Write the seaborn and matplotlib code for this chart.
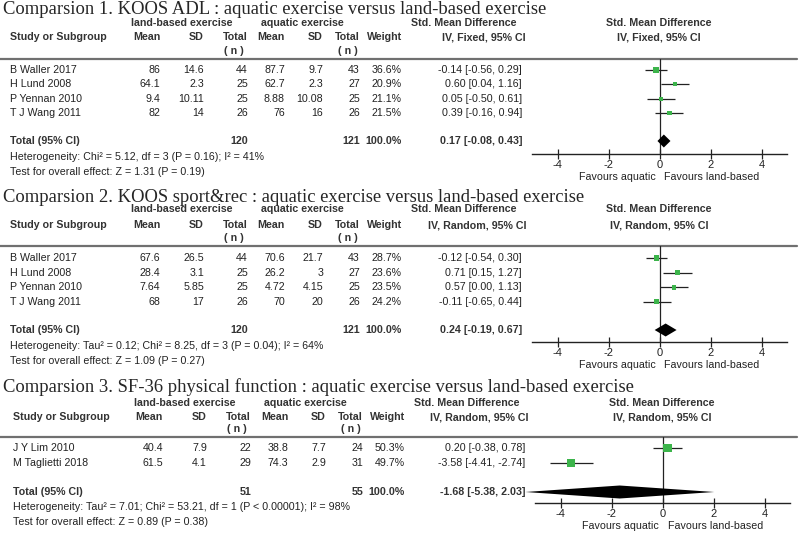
import numpy as np
import pandas as pd
import matplotlib
matplotlib.use('Agg')
import matplotlib.pyplot as plt
import seaborn as sns

# ---- data ----
titles = ['Comparsion 1. KOOS ADL : aquatic exercise versus land-based exercise',
          'Comparsion 2. KOOS sport&rec : aquatic exercise versus land-based exercise',
          'Comparsion 3. SF-36 physical function : aquatic exercise versus land-based exercise']
methods = ['IV, Fixed, 95% CI', 'IV, Random, 95% CI', 'IV, Random, 95% CI']

studies = [['B Waller 2017', 'H Lund 2008', 'P Yennan 2010', 'T J Wang 2011'],
           ['B Waller 2017', 'H Lund 2008', 'P Yennan 2010', 'T J Wang 2011'],
           ['J Y Lim 2010', 'M Taglietti 2018']]
land_mean = [[86, 64.1, 9.4, 82], [67.6, 28.4, 7.64, 68], [40.4, 61.5]]
land_sd = [[14.6, 2.3, 10.11, 14], [26.5, 3.1, 5.85, 17], [7.9, 4.1]]
land_n = [[44, 25, 25, 26], [44, 25, 25, 26], [22, 29]]
aqua_mean = [[87.7, 62.7, 8.88, 76], [70.6, 26.2, 4.72, 70], [38.8, 74.3]]
aqua_sd = [[9.7, 2.3, 10.08, 16], [21.7, 3, 4.15, 20], [7.7, 2.9]]
aqua_n = [[43, 27, 25, 26], [43, 27, 25, 26], [24, 31]]
weight = [[36.6, 20.9, 21.1, 21.5], [28.7, 23.6, 23.5, 24.2], [50.3, 49.7]]
smd = [[-0.14, 0.60, 0.05, 0.39], [-0.12, 0.71, 0.57, -0.11], [0.20, -3.58]]
smd_lo = [[-0.56, 0.04, -0.50, -0.16], [-0.54, 0.15, 0.00, -0.65], [-0.38, -4.41]]
smd_hi = [[0.29, 1.16, 0.61, 0.94], [0.30, 1.27, 1.13, 0.44], [0.78, -2.74]]
tot_land_n = [120, 120, 51]
tot_aqua_n = [121, 121, 55]
tot_weight = [100.0, 100.0, 100.0]
tot_smd = [0.17, 0.24, -1.68]
tot_lo = [-0.08, -0.19, -5.38]
tot_hi = [0.43, 0.67, 2.03]
heterogeneity = ['Heterogeneity: Chi\u00b2 = 5.12, df = 3 (P = 0.16); I\u00b2 = 41%',
                 'Heterogeneity: Tau\u00b2 = 0.12; Chi\u00b2 = 8.25, df = 3 (P = 0.04); I\u00b2 = 64%',
                 'Heterogeneity: Tau\u00b2 = 7.01; Chi\u00b2 = 53.21, df = 1 (P < 0.00001); I\u00b2 = 98%']
overall = ['Test for overall effect: Z = 1.31 (P = 0.19)',
           'Test for overall effect: Z = 1.09 (P = 0.27)',
           'Test for overall effect: Z = 0.89 (P = 0.38)']
xticks = [-4, -2, 0, 2, 4]

# ---- layout (pixels) ----
layout = [
    dict(title=10, h1=23, h2=37, n=51, rule=59, row0=70, dy=14.4, total=141, het=157, test=172, axis=154, dx=0),
    dict(title=197, h1=209, h2=225, n=238, rule=246, row0=258, dy=14.6, total=330, het=346, test=361, axis=342, dx=0),
    dict(title=387, h1=403, h2=417, n=429, rule=437, row0=448, dy=15, total=492, het=507, test=522, axis=503, dx=3),
]

sns.set_theme(style='white')
plt.rcParams['font.family'] = ['Liberation Sans', 'DejaVu Sans']
W, H = 800, 533
fig = plt.figure(figsize=(8, 5.33), dpi=100)
main = fig.add_axes([0, 0, 1, 1])
main.set_xlim(0, W)
main.set_ylim(H, 0)
main.axis('off')

fs = 7.7
green = '#3cb44b'
line_c = '#222222'

for p in range(3):
    L = layout[p]
    dx = L['dx']
    main.text(3, L['title'], titles[p], family=['Liberation Serif', 'DejaVu Serif'],
              fontsize=13.45, va='center', ha='left')
    bold = dict(fontsize=fs, fontweight='bold', va='center', color='#333333')
    main.text(182 + dx, L['h1'], 'land-based exercise', ha='center', **bold)
    main.text(302 + dx, L['h1'], 'aquatic exercise', ha='center', **bold)
    main.text(464 + dx, L['h1'], 'Std. Mean Difference', ha='center', **bold)
    main.text(659 + dx, L['h1'], 'Std. Mean Difference', ha='center', **bold)
    main.text(10 + dx, L['h2'], 'Study or Subgroup', ha='left', **bold)
    for xr, lab in zip([160, 204, 248, 285, 323, 360, 402],
                       ['Mean', 'SD', 'Total', 'Mean', 'SD', 'Total', 'Weight']):
        main.text(xr + dx, L['h2'], lab, ha='right', **bold)
    main.text(526 + dx, L['h2'], methods[p], ha='right', **bold)
    main.text(659 + dx, L['h2'], methods[p], ha='center', **bold)
    for xc in [234, 348]:
        main.text(xc + dx, L['n'], '( n )', ha='center', **bold)
    main.plot([0, 797], [L['rule'], L['rule']], color='#707070', lw=1.6)

    norm = dict(fontsize=fs, va='center', color='#222222')
    rows_y = [L['row0'] + i * L['dy'] for i in range(len(studies[p]))]
    for i, y in enumerate(rows_y):
        main.text(10 + dx, y, studies[p][i], ha='left', **norm)
        vals = [f'{land_mean[p][i]:g}', f'{land_sd[p][i]:g}', f'{land_n[p][i]}',
                f'{aqua_mean[p][i]:g}', f'{aqua_sd[p][i]:g}', f'{aqua_n[p][i]}',
                f'{weight[p][i]:.1f}%']
        for xr, v in zip([160, 204, 248, 285, 323, 360, 402], vals):
            main.text(xr + dx, y, v, ha='right', **norm)
        main.text(522 + dx, y, f'{smd[p][i]:.2f} [{smd_lo[p][i]:.2f}, {smd_hi[p][i]:.2f}]',
                  ha='right', **norm)
    main.text(10 + dx, L['total'], 'Total (95% CI)', ha='left', **bold)
    main.text(248 + dx, L['total'], f'{tot_land_n[p]}', ha='right', **bold)
    main.text(360 + dx, L['total'], f'{tot_aqua_n[p]}', ha='right', **bold)
    main.text(402 + dx, L['total'], f'{tot_weight[p]:.1f}%', ha='right', **bold)
    main.text(522 + dx, L['total'], f'{tot_smd[p]:.2f} [{tot_lo[p]:.2f}, {tot_hi[p]:.2f}]',
              ha='right', **bold)
    main.text(10 + dx, L['het'], heterogeneity[p], ha='left', **norm)
    main.text(10 + dx, L['test'], overall[p], ha='left', **norm)

    # forest axes
    x0, x1 = 532 + dx, 787 + dx
    ax = fig.add_axes([x0 / W, 1 - L['axis'] / H, (x1 - x0) / W, (L['axis'] - L['rule']) / H])
    ax.set_facecolor('none')
    ax.set_xlim(-5, 5)
    ax.set_ylim(L['axis'], L['rule'])
    for s in ['left', 'right', 'top']:
        ax.spines[s].set_visible(False)
    ax.spines['bottom'].set_color(line_c)
    ax.spines['bottom'].set_linewidth(1.0)
    ax.axvline(0, color=line_c, lw=0.9)
    ax.hlines(rows_y, smd_lo[p], smd_hi[p], color=line_c, lw=0.9)
    df = pd.DataFrame({'smd': smd[p], 'y': rows_y, 'w': weight[p]})
    sns.scatterplot(data=df, x='smd', y='y', size='w', sizes=(8, 36), size_norm=(20, 50),
                    marker='s', color=green, linewidth=0, legend=False, ax=ax, zorder=3)
    ty, hh = L['total'], 6.5
    ax.fill([tot_lo[p], tot_smd[p], tot_hi[p], tot_smd[p]], [ty, ty - hh, ty, ty + hh],
            color='black', lw=0, zorder=4, clip_on=False)
    ax.set_xticks(xticks)
    ax.set_xticklabels([str(t) for t in xticks], fontsize=8)
    ax.set_yticks([])
    ax.tick_params(axis='x', direction='inout', length=7, width=0.9, color=line_c,
                   pad=1, bottom=True, labelcolor='#222222')
    ax.set_xlabel('')
    ax.set_ylabel('')
    zx = x0 + (x1 - x0) / 2
    main.text(zx - 4, L['axis'] + 23, 'Favours aquatic', ha='right', **norm)
    main.text(zx + 5, L['axis'] + 23, 'Favours land-based', ha='left', **norm)

fig.savefig('out.png', dpi=100)
